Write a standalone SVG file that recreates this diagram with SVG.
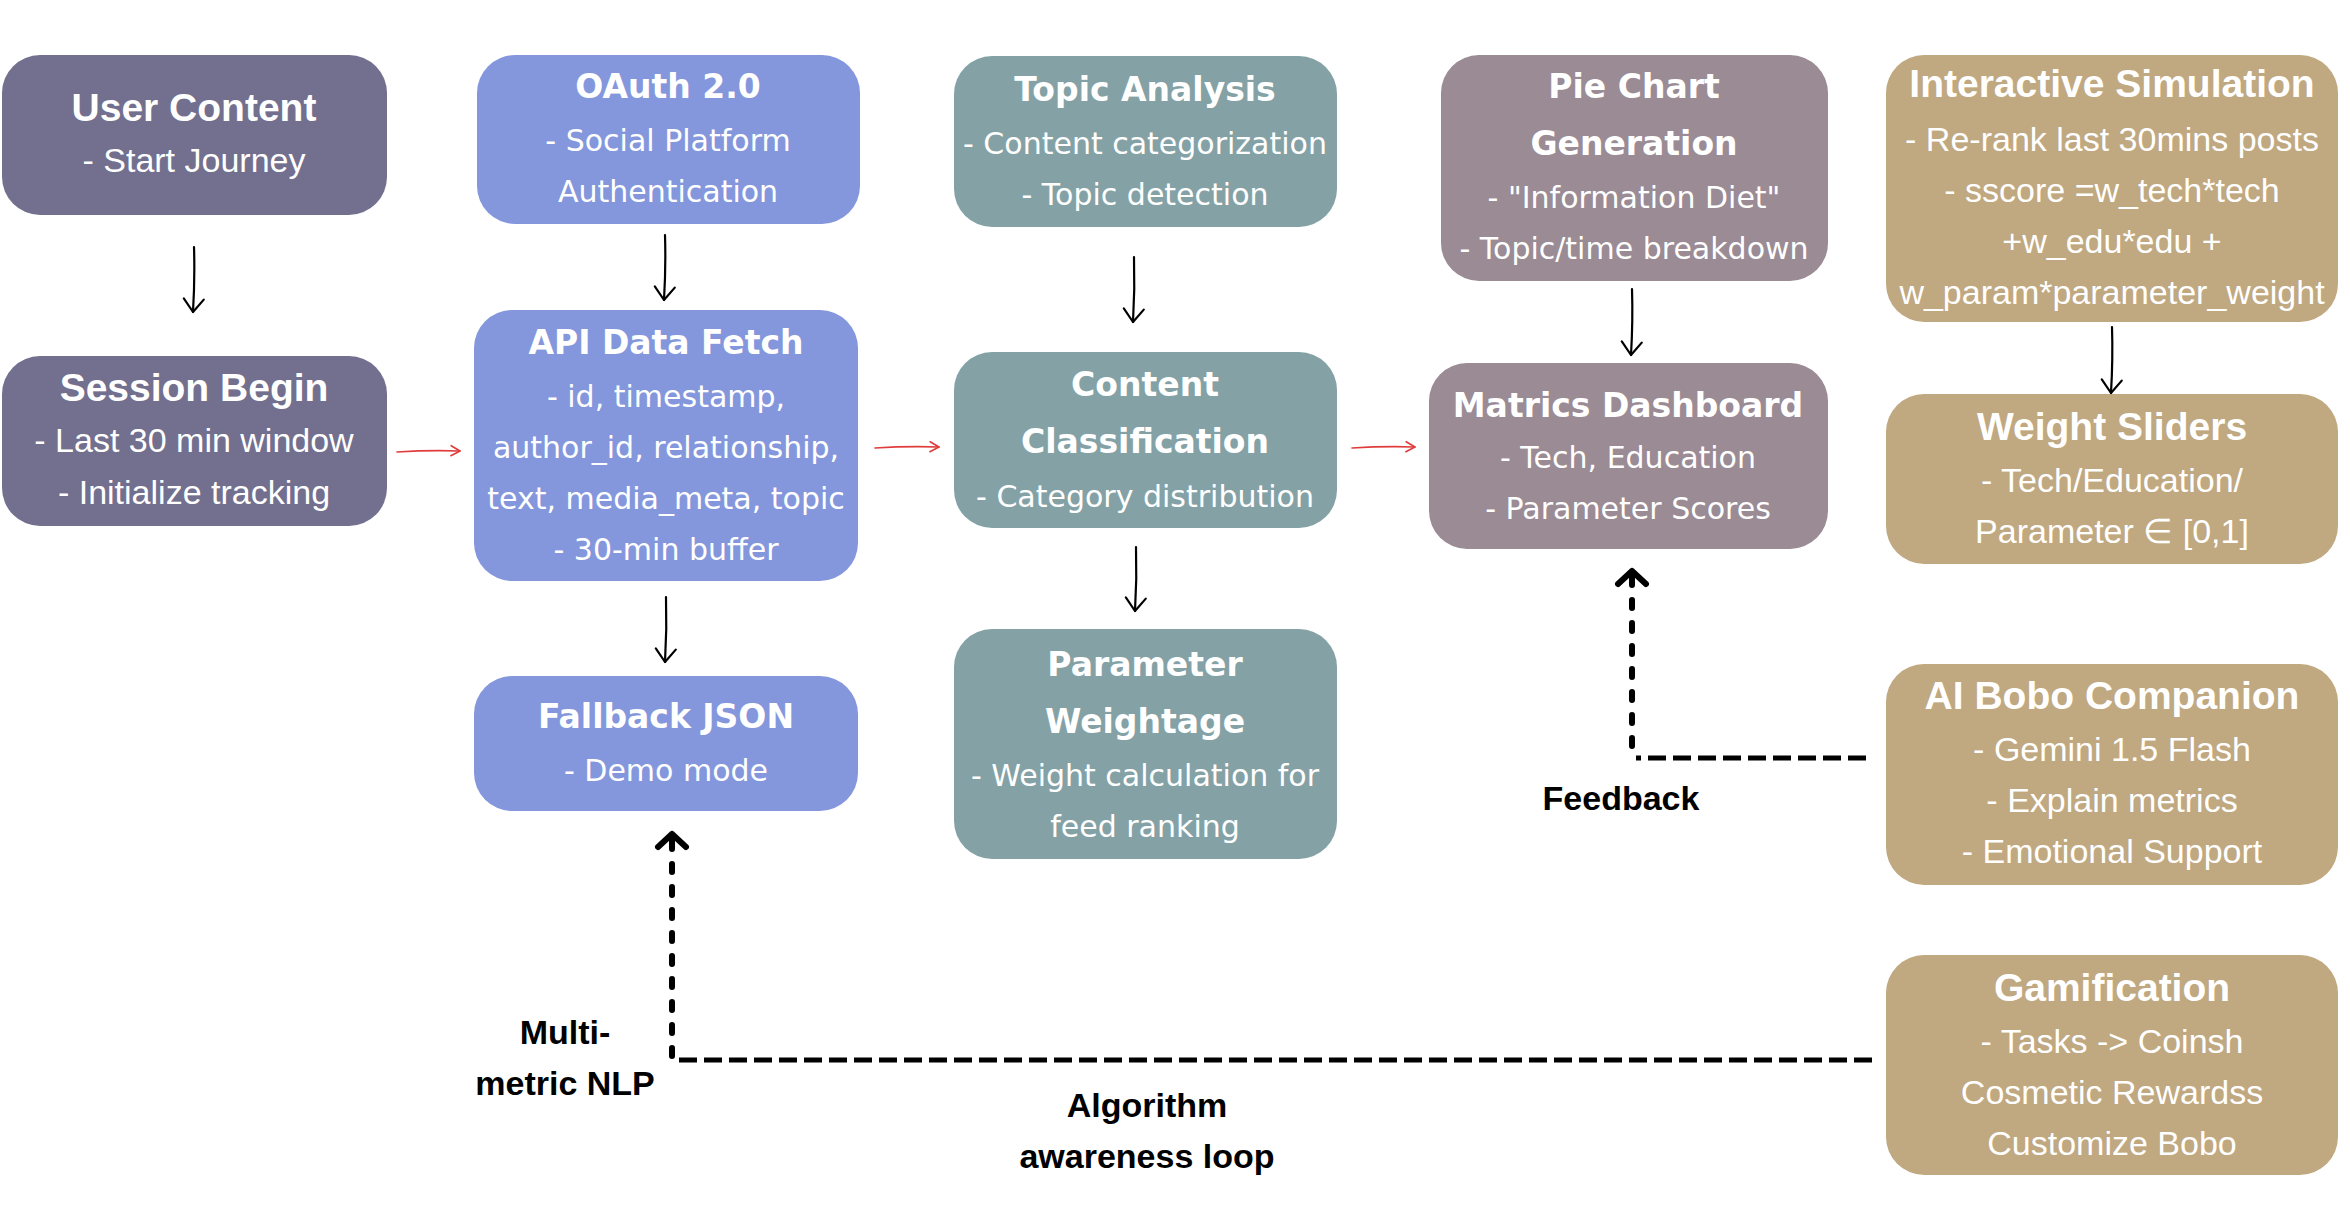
<svg xmlns="http://www.w3.org/2000/svg" width="2350" height="1224" viewBox="0 0 2350 1224">
<defs>
<marker id="ah" markerUnits="userSpaceOnUse" viewBox="-16 -12 20 24" refX="0" refY="0" markerWidth="20" markerHeight="24" orient="auto"><path d="M-13,-10 L0,0 L-13,10" fill="none" stroke="#000" stroke-width="2.2" stroke-linecap="round" stroke-linejoin="round"/></marker>
<marker id="ahr" markerUnits="userSpaceOnUse" viewBox="-12 -8 14 16" refX="0" refY="0" markerWidth="14" markerHeight="16" orient="auto"><path d="M-9,-5 L0,0 L-9,5" fill="none" stroke="#e03c3c" stroke-width="1.6" stroke-linecap="round" stroke-linejoin="round"/></marker>
<marker id="ahd" markerUnits="userSpaceOnUse" viewBox="-20 -20 26 40" refX="0" refY="0" markerWidth="26" markerHeight="40" orient="auto"><path d="M-13,-14 L0,0 L-13,14" fill="none" stroke="#000" stroke-width="6" stroke-linecap="round" stroke-linejoin="round"/></marker>
</defs>
<style>
.c1{fill:#72708e}
.c2{fill:#8497dc}
.c3{fill:#84a2a6}
.c4{fill:#9a8b95}
.c5{fill:#c0a880}
.n{font-family:'Liberation Sans',Arial,sans-serif;fill:#fff;text-anchor:middle}
.nb{font-weight:bold;font-size:39px}
.nr{font-size:34px}
.w{font-family:'DejaVu Sans','Liberation Sans',sans-serif;fill:#fff;text-anchor:middle}
.wb{font-weight:bold;font-size:33px}
.wr{font-size:30px}
.lbl{font-family:'Liberation Sans',Arial,sans-serif;font-weight:bold;font-size:34px;fill:#000;text-anchor:middle}
.a{fill:none;stroke:#000;stroke-width:2.2;stroke-linecap:round;marker-end:url(#ah)}
.r{fill:none;stroke:#e03c3c;stroke-width:1.6;stroke-linecap:round;marker-end:url(#ahr)}
.dv{fill:none;stroke:#000;stroke-width:6;stroke-linecap:round;stroke-dasharray:8 15}
.dh{fill:none;stroke:#000;stroke-width:5;stroke-dasharray:18 7}
</style>

<g id="user-content">
<rect class="c1" x="2" y="55" width="385" height="160" rx="38"/>
<text class="n nb" x="194" y="121">User Content</text>
<text class="n nr" x="194" y="172">- Start Journey</text>
</g>
<g id="session-begin">
<rect class="c1" x="2" y="356" width="385" height="170" rx="38"/>
<text class="n nb" x="194" y="401">Session Begin</text>
<text class="n nr" x="194" y="452">- Last 30 min window</text>
<text class="n nr" x="194" y="504">- Initialize tracking</text>
</g>

<g id="oauth">
<rect class="c2" x="477" y="55" width="383" height="169" rx="38"/>
<text class="w wb" x="668" y="98">OAuth 2.0</text>
<text class="w wr" x="668" y="151">- Social Platform</text>
<text class="w wr" x="668" y="202">Authentication</text>
</g>
<g id="api-data-fetch">
<rect class="c2" x="474" y="310" width="384" height="271" rx="38"/>
<text class="w wb" x="666" y="354">API Data Fetch</text>
<text class="w wr" x="666" y="407">- id, timestamp,</text>
<text class="w wr" x="666" y="458">author_id, relationship,</text>
<text class="w wr" x="666" y="509">text, media_meta, topic</text>
<text class="w wr" x="666" y="560">- 30-min buffer</text>
</g>
<g id="fallback-json">
<rect class="c2" x="474" y="676" width="384" height="135" rx="38"/>
<text class="w wb" x="666" y="728">Fallback JSON</text>
<text class="w wr" x="666" y="781">- Demo mode</text>
</g>

<g id="topic-analysis">
<rect class="c3" x="954" y="56" width="383" height="171" rx="38"/>
<text class="w wb" x="1145" y="101">Topic Analysis</text>
<text class="w wr" x="1145" y="154">- Content categorization</text>
<text class="w wr" x="1145" y="205">- Topic detection</text>
</g>
<g id="content-classification">
<rect class="c3" x="954" y="352" width="383" height="176" rx="38"/>
<text class="w wb" x="1145" y="396">Content</text>
<text class="w wb" x="1145" y="453">Classification</text>
<text class="w wr" x="1145" y="507">- Category distribution</text>
</g>
<g id="parameter-weightage">
<rect class="c3" x="954" y="629" width="383" height="230" rx="38"/>
<text class="w wb" x="1145" y="676">Parameter</text>
<text class="w wb" x="1145" y="733">Weightage</text>
<text class="w wr" x="1145" y="786">- Weight calculation for</text>
<text class="w wr" x="1145" y="837">feed ranking</text>
</g>

<g id="pie-chart">
<rect class="c4" x="1441" y="55" width="387" height="226" rx="38"/>
<text class="w wb" x="1634" y="98">Pie Chart</text>
<text class="w wb" x="1634" y="155">Generation</text>
<text class="w wr" x="1634" y="208">- "Information Diet"</text>
<text class="w wr" x="1634" y="259">- Topic/time breakdown</text>
</g>
<g id="matrics-dashboard">
<rect class="c4" x="1429" y="363" width="399" height="186" rx="38"/>
<text class="w wb" x="1628" y="417">Matrics Dashboard</text>
<text class="w wr" x="1628" y="468">- Tech, Education</text>
<text class="w wr" x="1628" y="519">- Parameter Scores</text>
</g>

<g id="interactive-simulation">
<rect class="c5" x="1886" y="55" width="452" height="267" rx="38"/>
<text class="n nb" x="2112" y="97">Interactive Simulation</text>
<text class="n nr" x="2112" y="151">- Re-rank last 30mins posts</text>
<text class="n nr" x="2112" y="202">- sscore =w_tech*tech</text>
<text class="n nr" x="2112" y="253">+w_edu*edu +</text>
<text class="n nr" x="2112" y="304">w_param*parameter_weight</text>
</g>
<g id="weight-sliders">
<rect class="c5" x="1886" y="394" width="452" height="170" rx="38"/>
<text class="n nb" x="2112" y="440">Weight Sliders</text>
<text class="n nr" x="2112" y="492">- Tech/Education/</text>
<text class="n nr" x="2112" y="543">Parameter ∈ [0,1]</text>
</g>
<g id="ai-bobo">
<rect class="c5" x="1886" y="664" width="452" height="221" rx="38"/>
<text class="n nb" x="2112" y="709">AI Bobo Companion</text>
<text class="n nr" x="2112" y="761">- Gemini 1.5 Flash</text>
<text class="n nr" x="2112" y="812">- Explain metrics</text>
<text class="n nr" x="2112" y="863">- Emotional Support</text>
</g>
<g id="gamification">
<rect class="c5" x="1886" y="955" width="452" height="220" rx="38"/>
<text class="n nb" x="2112" y="1001">Gamification</text>
<text class="n nr" x="2112" y="1053">- Tasks -&gt; Coinsh</text>
<text class="n nr" x="2112" y="1104">Cosmetic Rewardss</text>
<text class="n nr" x="2112" y="1155">Customize Bobo</text>
</g>

<g id="connectors">
<path class="a" d="M194,247 Q195,279 193,312"/>
<path class="a" d="M665,235 Q666,267 664,300"/>
<path class="a" d="M666,597 Q667,629 665,662"/>
<path class="a" d="M1134,257 Q1135,289 1133,322"/>
<path class="a" d="M1136,547 Q1137,579 1135,611"/>
<path class="a" d="M1632,289 Q1633,321 1631,355"/>
<path class="a" d="M2112,327 Q2113,359 2111,393"/>
<path class="r" d="M397,452 Q429,450 460,451"/>
<path class="r" d="M875,448 Q907,446 939,447"/>
<path class="r" d="M1352,448 Q1384,446 1415,447"/>
<path class="dh" d="M1866,758 L1636,758"/>
<path class="dv" d="M1632,746 L1632,571" marker-end="url(#ahd)"/>
<path class="dh" d="M1872,1060 L678,1060"/>
<path class="dv" d="M672,1056 L672,834" marker-end="url(#ahd)"/>
<text class="lbl" x="1621" y="810">Feedback</text>
<text class="lbl" x="565" y="1044">Multi-</text>
<text class="lbl" x="565" y="1095">metric NLP</text>
<text class="lbl" x="1147" y="1117">Algorithm</text>
<text class="lbl" x="1147" y="1168">awareness loop</text>
</g>
</svg>
